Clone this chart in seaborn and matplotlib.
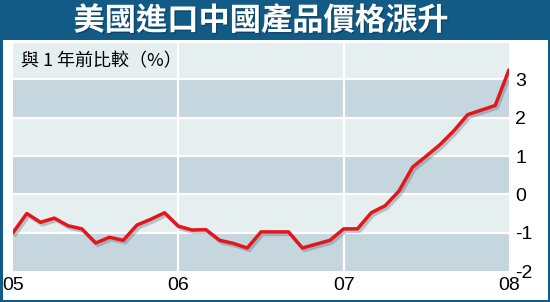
import matplotlib
matplotlib.use("Agg")
import matplotlib.pyplot as plt
import matplotlib.patheffects as pe
import seaborn as sns
import pandas as pd
import numpy as np

# Data (year-over-year % change, monthly Jan 2005 - Jan 2008)
months = pd.date_range("2005-01-01", "2008-01-01", freq="MS")
values_2005 = [-1.0, -0.5, -0.73, -0.62, -0.82, -0.9, -1.27, -1.12, -1.2, -0.8, -0.65, -0.48]
values_2006 = [-0.83, -0.93, -0.92, -1.2, -1.28, -1.4, -0.98, -0.98, -0.98, -1.4, -1.3, -1.2]
values_2007 = [-0.9, -0.9, -0.48, -0.3, 0.08, 0.71, 1.0, 1.3, 1.66, 2.08, 2.2, 2.32]
values_2008 = [3.25]
values = values_2005 + values_2006 + values_2007 + values_2008
x_tick_labels = ["05", "06", "07", "08"]
y_ticks = [-2, -1, 0, 1, 2, 3]
title = "美國進口中國產品價格漲升"
subtitle = "與 1 年前比較（%）"

df = pd.DataFrame({"x": np.arange(len(values)) / 12.0, "value": values})

sns.set_theme(style="white")
plt.rcParams["font.family"] = ["Liberation Sans", "Noto Sans CJK TC", "DejaVu Sans"]

BLUE = "#125b86"
DARK = "#c5d6df"
LIGHT = "#e6efef"

fig = plt.figure(figsize=(5.5, 3.02), dpi=100)
fig.patch.set_facecolor("white")

# title bar
fig.add_artist(plt.Rectangle((0, 1 - 40 / 302), 1, 40 / 302, transform=fig.transFigure,
                             facecolor=BLUE, edgecolor="none", zorder=0))
# border
fig.add_artist(plt.Rectangle((0.001, 0.002), 0.997, 0.996, transform=fig.transFigure,
                             facecolor="none", edgecolor=BLUE, linewidth=2.2, zorder=10))
fig.text(261 / 550, 1 - 21 / 302, title, ha="center", va="center", color="white",
         fontsize=22.5, fontweight="heavy", family=["Noto Sans CJK TC"],
         path_effects=[pe.withSimplePatchShadow(offset=(1, -1), shadow_rgbFace="#0a3550", alpha=0.6)])

ax = fig.add_axes([13 / 550, 1 - 271 / 302, (509 - 13) / 550, (271 - 43) / 302])
ymin, ymax = -2, 3.95
ax.set_xlim(0, 3)
ax.set_ylim(ymin, ymax)
ax.set_facecolor(LIGHT)

# alternating bands
edges = [-2, -1, 0, 1, 2, 3, ymax]
for i in range(len(edges) - 1):
    col = DARK if i % 2 == 0 else LIGHT
    ax.axhspan(edges[i], edges[i + 1], color=col, lw=0, zorder=0)
for yv in y_ticks[1:]:
    ax.axhline(yv, color="white", lw=1.6, zorder=1)
for xv in [1, 2]:
    ax.axvline(xv, color="white", lw=1.6, zorder=1)

sns.lineplot(data=df, x="x", y="value", ax=ax, color="#e4161b", lw=2.5, zorder=3,
             path_effects=[pe.SimpleLineShadow(offset=(1.5, -1.8), shadow_color="#5a6a75", alpha=0.35),
                           pe.Normal()])

for s in ax.spines.values():
    s.set_visible(False)
ax.set_xlabel("")
ax.set_ylabel("")
ax.set_xticks([0, 1, 2, 3])
ax.set_xticklabels(x_tick_labels)
ax.set_yticks(y_ticks)
ax.set_yticklabels([str(v) for v in y_ticks])
ax.yaxis.tick_right()
ax.tick_params(axis="both", length=0, labelsize=14, colors="black")
ax.tick_params(axis="y", pad=4.5)
ax.tick_params(axis="x", pad=4.5)
for lbl in ax.get_xticklabels() + ax.get_yticklabels():
    lbl.set_fontfamily(["Liberation Sans"])

fig.text(21 / 550, 1 - 61 / 302, subtitle, ha="left", va="center", color="black",
         fontsize=13, family=["Noto Sans CJK TC", "DejaVu Sans"], zorder=5)

fig.savefig("out.png", dpi=100)
